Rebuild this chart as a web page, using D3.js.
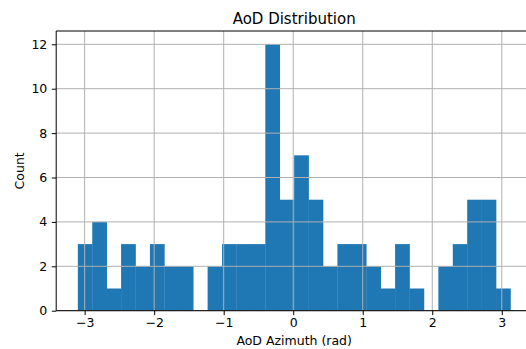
<html>
<head>
    <title>AoD Distribution</title>
    <script src="https://d3js.org/d3.v7.min.js"></script>
<style>
    body { margin: 0; background: #fff; }
    text { font-family: "DejaVu Sans", sans-serif; fill: #000; }
</style>
</head>
<body>
    <script>
    // histogram: 30 equal bins between the smallest and largest sample
    var binMin = -3.098,
        binMax = 3.125;
    var counts = [3, 4, 1, 3, 2, 3, 2, 2, 0, 2,
                  3, 3, 3, 12, 5, 7, 5, 2, 3, 3,
                  2, 1, 3, 1, 0, 2, 3, 5, 5, 1];
    var xTicks = [-3, -2, -1, 0, 1, 2, 3];
    var yTicks = [0, 2, 4, 6, 8, 10, 12];

    var width = 526,
        height = 349;

    var svg = d3.select("body")
      .append("svg")
      .attr("width", width)
      .attr("height", height);

    var plotLeft = 56.2, plotRight = 532.1,
        plotTop = 31, plotBottom = 310.7;

    var binW = (binMax - binMin) / counts.length;
    var pad = 0.05 * (binMax - binMin);

    var x = d3.scaleLinear()
      .domain([binMin - pad, binMax + pad])
      .range([plotLeft, plotRight]);

    var y = d3.scaleLinear()
      .domain([0, d3.max(counts) * 1.05])
      .range([plotBottom, plotTop]);

    // bars
    svg.append("g")
      .selectAll("rect")
      .data(counts)
      .enter()
      .append("rect")
      .attr("x", (d, i) => x(binMin + i * binW))
      .attr("width", (d, i) => x(binMin + (i + 1) * binW) - x(binMin + i * binW) + 0.3)
      .attr("y", d => y(d))
      .attr("height", d => y(0) - y(d))
      .attr("fill", "#1f77b4");

    // grid on top of the bars
    var grid = svg.append("g").attr("stroke", "#b0b0b0").attr("stroke-width", 1);
    grid.selectAll(".gx")
      .data(xTicks)
      .enter()
      .append("line")
      .attr("x1", d => x(d)).attr("x2", d => x(d))
      .attr("y1", plotTop).attr("y2", plotBottom);
    grid.selectAll(".gy")
      .data(yTicks)
      .enter()
      .append("line")
      .attr("x1", plotLeft).attr("x2", plotRight)
      .attr("y1", d => y(d)).attr("y2", d => y(d));

    // axes
    var xAxis = svg.append("g")
      .attr("transform", "translate(0," + plotBottom + ")")
      .call(d3.axisBottom(x).tickValues(xTicks).tickSize(4.4).tickPadding(3)
        .tickFormat(d => d < 0 ? "\u2212" + Math.abs(d) : d));
    var yAxis = svg.append("g")
      .attr("transform", "translate(" + plotLeft + ",0)")
      .call(d3.axisLeft(y).tickValues(yTicks).tickSize(4.4).tickPadding(4.5));

    [xAxis, yAxis].forEach(function (a) {
      a.attr("font-family", "DejaVu Sans").attr("font-size", 12.5);
      a.selectAll("text").attr("fill", "#000");
      a.selectAll(".tick line").attr("stroke", "#000");
      a.select(".domain").remove();
    });

    // spines (left, bottom, top)
    svg.append("line").attr("x1", plotLeft).attr("x2", plotLeft).attr("y1", plotTop).attr("y2", plotBottom)
      .attr("stroke", "#000").attr("stroke-width", 1);
    svg.append("line").attr("x1", plotLeft).attr("x2", plotRight).attr("y1", plotBottom).attr("y2", plotBottom)
      .attr("stroke", "#000").attr("stroke-width", 1);
    svg.append("line").attr("x1", plotLeft).attr("x2", plotRight).attr("y1", plotTop).attr("y2", plotTop)
      .attr("stroke", "#000").attr("stroke-width", 1);

    // labels
    svg.append("text")
      .attr("x", (plotLeft + plotRight) / 2)
      .attr("y", 24)
      .attr("text-anchor", "middle")
      .style("font-size", "15px")
      .text("AoD Distribution");

    svg.append("text")
      .attr("x", (plotLeft + plotRight) / 2)
      .attr("y", 345)
      .attr("text-anchor", "middle")
      .style("font-size", "12.5px")
      .text("AoD Azimuth (rad)");

    svg.append("text")
      .attr("transform", "translate(24," + (plotTop + plotBottom) / 2 + ") rotate(-90)")
      .attr("text-anchor", "middle")
      .style("font-size", "12.5px")
      .text("Count");
    </script>
</body>
</html>
